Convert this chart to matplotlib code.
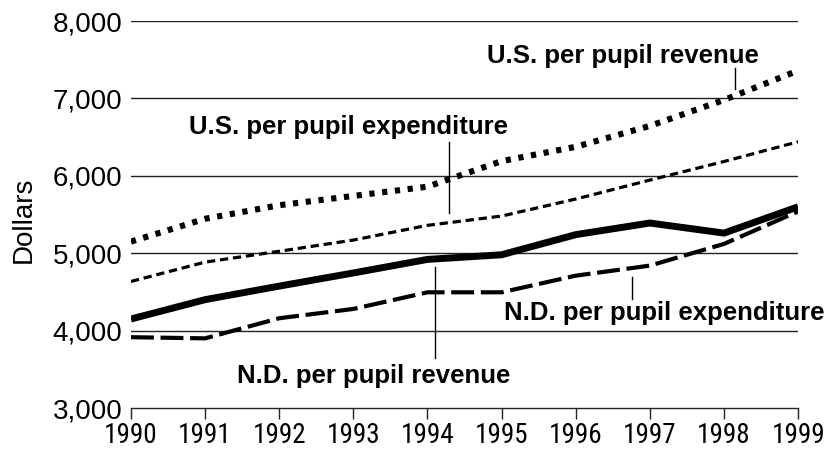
import matplotlib
matplotlib.use('Agg')
import matplotlib.pyplot as plt

years = [1990, 1991, 1992, 1993, 1994, 1995, 1996, 1997, 1998, 1999]

# values
us_revenue = [5150, 5445, 5620, 5740, 5860, 6190, 6375, 6645, 6980, 7360]
us_expenditure = [4635, 4885, 5025, 5170, 5360, 5480, 5700, 5945, 6185, 6440]
nd_revenue = [4150, 4400, 4575, 4745, 4920, 4980, 5240, 5390, 5260, 5600]
nd_expenditure = [3915, 3900, 4160, 4280, 4495, 4495, 4710, 4840, 5120, 5540]

y_ticks = [3000, 4000, 5000, 6000, 7000, 8000]

plt.rcParams['font.family'] = ['Liberation Sans', 'DejaVu Sans']
cond_fonts = ['Roboto Condensed', 'Archivo Narrow', 'Liberation Sans']

fig = plt.figure(figsize=(8.34, 4.53), dpi=100)
ax = fig.add_axes([0.157, 0.0993, 0.8, 0.8543])

# gridlines
for v in y_ticks[1:]:
    ax.axhline(v, color='#222222', lw=1.0, zorder=1)

ax.plot(years, us_revenue, color='black', lw=4.4, linestyle=(0, (0.85, 1.25)),
        dash_capstyle='butt', zorder=3)
ax.plot(years, us_expenditure, color='black', lw=2.3, linestyle=(0, (2.6, 1.5)),
        dash_capstyle='butt', zorder=3)
ax.plot(years, nd_revenue, color='black', lw=5.0, solid_capstyle='butt',
        solid_joinstyle='miter', zorder=3)
ax.plot(years, nd_expenditure, color='black', lw=3.0, linestyle=(0, (5.5, 1.6)),
        dash_capstyle='butt', zorder=3)

ax.set_xlim(1990, 1999)
ax.set_ylim(3000, 8000)

for s in ['top', 'right', 'left']:
    ax.spines[s].set_visible(False)
ax.spines['bottom'].set_linewidth(1.0)
ax.spines['bottom'].set_color('#222222')

ax.set_xticks(years)
ax.set_xticklabels([str(y) for y in years], family=cond_fonts, fontsize=19.5)
ax.set_yticks(y_ticks)
ax.set_yticklabels(['{:,}'.format(v) for v in y_ticks], fontsize=20)
ax.tick_params(axis='x', direction='out', length=8, width=1.0, pad=2, color='#222222')
ax.tick_params(axis='y', length=0, pad=6)

fig.text(0.028, 0.515, 'Dollars', rotation=90, fontsize=20, ha='center', va='center')

# labels with leader lines
lab = dict(fontsize=18.5, fontweight='bold', ha='center', va='baseline', clip_on=False)
ax.text(1996.64, 7457, 'U.S. per pupil revenue', **lab)
ax.plot([1998.15, 1998.15], [7393, 7121], color='black', lw=1.0, zorder=4)

ax.text(1992.93, 6536, 'U.S. per pupil expenditure', **lab)
ax.plot([1994.29, 1994.29], [6437, 5519], color='black', lw=1.0, zorder=4)

ax.text(1997.19, 4137, 'N.D. per pupil expenditure', **lab)
ax.plot([1996.76, 1996.76], [4692, 4408], color='black', lw=1.0, zorder=4)

ax.text(1993.28, 3323, 'N.D. per pupil revenue', **lab)
ax.plot([1994.1, 1994.1], [4822, 3646], color='black', lw=1.0, zorder=4)

fig.savefig('out.png', dpi=100)
